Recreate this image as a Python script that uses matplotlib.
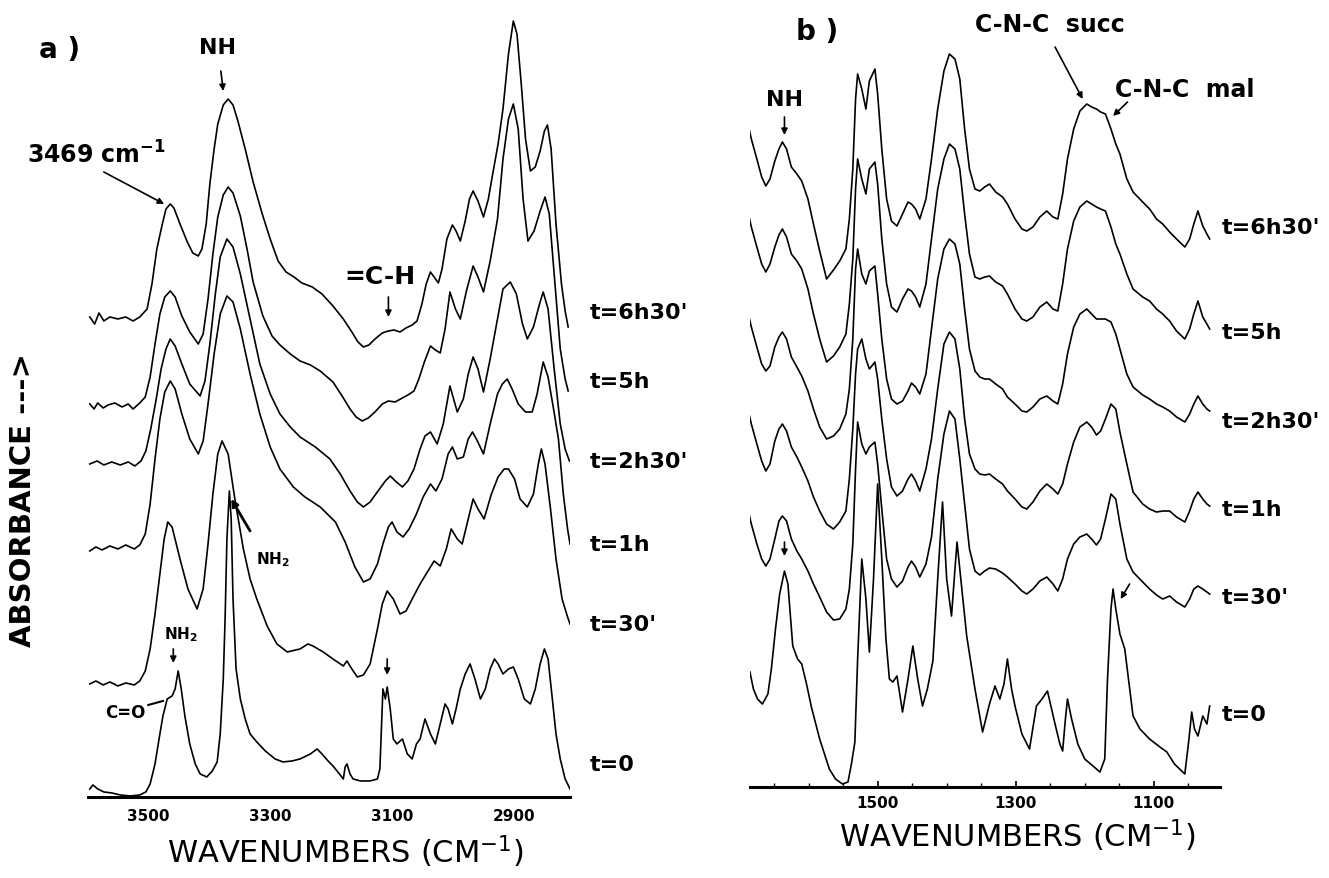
import matplotlib
matplotlib.use("Agg")
import matplotlib.pyplot as plt
from matplotlib.ticker import FixedLocator, MultipleLocator

# ---------------- panel a : NH / CH stretching region ----------------
wn_a_6h30 = [3596, 3588, 3581, 3573, 3563, 3550, 3537, 3525, 3514, 3502, 3494, 3486, 3477, 3471, 3464, 3458,
             3448, 3436, 3427, 3418, 3412, 3405, 3399, 3392, 3386, 3377, 3369, 3361, 3353, 3341, 3328, 3313,
             3300, 3287, 3274, 3261, 3248, 3231, 3215, 3197, 3180, 3166, 3156, 3147, 3138, 3128, 3116, 3106,
             3097, 3087, 3077, 3067, 3059, 3051, 3044, 3037, 3031, 3024, 3018, 3010, 3001, 2995, 2988, 2980,
             2973, 2967, 2959, 2950, 2942, 2934, 2926, 2918, 2909, 2901, 2895, 2888, 2881, 2873, 2865, 2857,
             2850, 2845, 2839, 2831, 2822, 2816, 2811]
ab_a_6h30 = [4.80, 4.73, 4.84, 4.76, 4.80, 4.78, 4.80, 4.76, 4.80, 4.88, 5.13, 5.48, 5.73, 5.88, 5.93, 5.89,
             5.73, 5.55, 5.44, 5.41, 5.48, 5.73, 6.13, 6.48, 6.73, 6.92, 6.98, 6.92, 6.76, 6.48, 6.15, 5.83,
             5.58, 5.36, 5.25, 5.20, 5.14, 5.10, 5.03, 4.91, 4.78, 4.65, 4.55, 4.50, 4.52, 4.58, 4.64, 4.66,
             4.67, 4.65, 4.69, 4.72, 4.76, 4.93, 5.13, 5.25, 5.20, 5.14, 5.28, 5.58, 5.72, 5.66, 5.56, 5.76,
             5.98, 6.06, 5.96, 5.80, 5.98, 6.26, 6.53, 6.88, 7.43, 7.76, 7.63, 7.13, 6.58, 6.26, 6.30, 6.46,
             6.66, 6.72, 6.48, 5.73, 5.13, 4.86, 4.70]

wn_a_5h = [3596, 3589, 3583, 3574, 3566, 3555, 3543, 3533, 3525, 3514, 3505, 3497, 3489, 3481, 3473, 3464,
           3456, 3445, 3432, 3418, 3410, 3402, 3394, 3386, 3377, 3369, 3361, 3349, 3338, 3328, 3312, 3297,
           3284, 3267, 3251, 3234, 3218, 3197, 3182, 3169, 3159, 3149, 3139, 3128, 3116, 3106, 3095, 3083,
           3074, 3064, 3056, 3047, 3037, 3029, 3021, 3013, 3005, 2996, 2988, 2978, 2967, 2959, 2950, 2939,
           2927, 2918, 2909, 2901, 2893, 2885, 2877, 2867, 2857, 2849, 2842, 2832, 2824, 2816, 2811]
ab_a_5h = [3.93, 3.88, 3.94, 3.89, 3.92, 3.94, 3.90, 3.93, 3.88, 3.94, 4.00, 4.20, 4.53, 4.83, 5.00, 5.06,
           5.00, 4.81, 4.65, 4.53, 4.63, 4.98, 5.43, 5.80, 6.02, 6.10, 6.04, 5.81, 5.48, 5.15, 4.81, 4.61,
           4.52, 4.43, 4.36, 4.32, 4.26, 4.15, 4.01, 3.88, 3.80, 3.76, 3.79, 3.85, 3.93, 3.96, 3.95, 3.99,
           4.02, 4.06, 4.18, 4.35, 4.51, 4.47, 4.44, 4.68, 5.05, 4.88, 4.78, 5.06, 5.31, 5.20, 5.05, 5.36,
           5.78, 6.38, 6.78, 6.93, 6.68, 5.98, 5.56, 5.66, 5.86, 6.00, 5.83, 5.08, 4.48, 4.18, 4.06]

wn_a_2h30 = [3596, 3584, 3573, 3560, 3546, 3533, 3522, 3512, 3504, 3496, 3487, 3479, 3471, 3464, 3456, 3445,
             3432, 3415, 3407, 3399, 3390, 3382, 3371, 3361, 3349, 3333, 3317, 3300, 3284, 3267, 3251, 3226,
             3202, 3185, 3169, 3157, 3147, 3136, 3123, 3111, 3103, 3093, 3083, 3074, 3064, 3054, 3046, 3037,
             3026, 3016, 3005, 2993, 2983, 2975, 2967, 2959, 2950, 2939, 2927, 2918, 2906, 2896, 2886, 2878,
             2868, 2858, 2852, 2844, 2834, 2824, 2816, 2809]
ab_a_2h30 = [3.33, 3.36, 3.32, 3.35, 3.32, 3.35, 3.31, 3.36, 3.46, 3.68, 3.98, 4.28, 4.48, 4.58, 4.51, 4.33,
             4.13, 4.01, 4.16, 4.53, 5.03, 5.40, 5.58, 5.50, 5.23, 4.78, 4.33, 4.03, 3.83, 3.70, 3.60, 3.50,
             3.38, 3.23, 3.06, 2.95, 2.90, 2.95, 3.06, 3.16, 3.21, 3.15, 3.10, 3.16, 3.28, 3.48, 3.61, 3.65,
             3.53, 3.73, 4.11, 3.85, 3.98, 4.23, 4.40, 4.28, 4.05, 4.38, 4.78, 5.08, 5.15, 5.03, 4.73, 4.58,
             4.70, 4.93, 5.05, 4.88, 4.28, 3.73, 3.48, 3.36]

wn_a_1h = [3596, 3586, 3576, 3563, 3550, 3537, 3523, 3514, 3505, 3497, 3489, 3481, 3473, 3464, 3456, 3445,
           3432, 3418, 3410, 3402, 3392, 3382, 3371, 3361, 3349, 3333, 3317, 3300, 3284, 3262, 3243, 3218,
           3193, 3177, 3161, 3147, 3136, 3124, 3115, 3106, 3100, 3092, 3082, 3072, 3060, 3049, 3037, 3028,
           3018, 3008, 3001, 2993, 2983, 2975, 2968, 2960, 2950, 2939, 2927, 2919, 2911, 2903, 2893, 2881,
           2870, 2862, 2852, 2844, 2835, 2827, 2819, 2812, 2808]
ab_a_1h = [2.46, 2.50, 2.47, 2.51, 2.48, 2.52, 2.48, 2.52, 2.63, 2.93, 3.38, 3.78, 4.05, 4.16, 4.08, 3.83,
           3.58, 3.43, 3.56, 3.93, 4.43, 4.83, 5.01, 4.95, 4.68, 4.23, 3.83, 3.50, 3.28, 3.10, 3.00, 2.90,
           2.75, 2.55, 2.30, 2.15, 2.18, 2.33, 2.53, 2.70, 2.75, 2.65, 2.60, 2.68, 2.83, 3.00, 3.13, 3.06,
           3.18, 3.43, 3.50, 3.38, 3.40, 3.58, 3.65, 3.56, 3.43, 3.73, 4.03, 4.13, 4.18, 4.08, 3.93, 3.85,
           3.85, 4.03, 4.35, 4.20, 3.88, 3.58, 3.03, 2.68, 2.53]

wn_a_30 = [3596, 3586, 3574, 3563, 3550, 3537, 3523, 3514, 3505, 3497, 3489, 3481, 3474, 3468, 3461, 3448,
           3435, 3420, 3410, 3402, 3394, 3386, 3379, 3369, 3358, 3344, 3333, 3322, 3305, 3289, 3272, 3251,
           3238, 3230, 3213, 3197, 3180, 3174, 3166, 3157, 3147, 3136, 3124, 3116, 3108, 3098, 3087, 3077,
           3067, 3054, 3041, 3031, 3021, 3011, 3003, 2993, 2985, 2975, 2967, 2959, 2949, 2937, 2926, 2916,
           2909, 2899, 2890, 2878, 2868, 2860, 2855, 2849, 2840, 2831, 2821, 2812, 2808]
ab_a_30 = [1.13, 1.16, 1.12, 1.15, 1.11, 1.14, 1.12, 1.16, 1.26, 1.48, 1.83, 2.23, 2.58, 2.75, 2.70, 2.38,
           2.08, 1.88, 2.08, 2.53, 3.03, 3.43, 3.56, 3.43, 2.98, 2.48, 2.18, 1.98, 1.71, 1.53, 1.45, 1.48,
           1.53, 1.51, 1.45, 1.38, 1.31, 1.36, 1.28, 1.20, 1.22, 1.33, 1.68, 1.93, 2.06, 1.98, 1.83, 1.86,
           1.98, 2.13, 2.26, 2.36, 2.31, 2.48, 2.68, 2.58, 2.53, 2.78, 2.98, 2.88, 2.78, 3.03, 3.20, 3.28,
           3.28, 3.18, 2.98, 2.90, 3.03, 3.33, 3.48, 3.33, 2.88, 2.38, 1.98, 1.80, 1.73]

wn_a_0 = [3596, 3591, 3583, 3573, 3560, 3546, 3530, 3514, 3504, 3497, 3489, 3481, 3476, 3469, 3461, 3456,
          3451, 3446, 3440, 3432, 3423, 3415, 3404, 3395, 3387, 3382, 3377, 3374, 3371, 3367, 3364, 3361,
          3356, 3349, 3341, 3333, 3322, 3308, 3292, 3279, 3264, 3251, 3234, 3223, 3215, 3205, 3197, 3189,
          3180, 3177, 3174, 3169, 3164, 3152, 3136, 3124, 3120, 3115, 3111, 3108, 3103, 3098, 3092, 3083,
          3075, 3067, 3060, 3054, 3046, 3037, 3029, 3021, 3013, 3008, 3001, 2995, 2988, 2980, 2972, 2964,
          2955, 2947, 2939, 2932, 2926, 2918, 2909, 2901, 2893, 2883, 2873, 2865, 2857, 2850, 2844, 2837,
          2831, 2824, 2816, 2808]
ab_a_0 = [0.08, 0.12, 0.08, 0.05, 0.04, 0.02, 0.01, 0.02, 0.05, 0.13, 0.33, 0.63, 0.81, 0.98, 1.01, 1.08,
          1.26, 1.08, 0.81, 0.53, 0.33, 0.23, 0.20, 0.26, 0.35, 0.63, 1.18, 1.78, 2.58, 3.06, 2.78, 1.98,
          1.28, 0.98, 0.78, 0.63, 0.55, 0.46, 0.38, 0.35, 0.36, 0.38, 0.43, 0.48, 0.43, 0.36, 0.31, 0.25,
          0.18, 0.30, 0.33, 0.23, 0.18, 0.16, 0.16, 0.18, 0.28, 1.08, 0.98, 1.10, 0.88, 0.58, 0.53, 0.58,
          0.43, 0.38, 0.53, 0.58, 0.78, 0.63, 0.53, 0.73, 0.93, 0.88, 0.73, 0.88, 1.08, 1.23, 1.33, 1.18,
          0.98, 1.08, 1.28, 1.38, 1.33, 1.23, 1.28, 1.30, 1.18, 0.98, 0.93, 1.08, 1.33, 1.48, 1.38, 0.98,
          0.63, 0.38, 0.18, 0.08]

# ---------------- panel b : fingerprint region ----------------
wn_b = [1688, 1683, 1675, 1668, 1662, 1656, 1649, 1643, 1638, 1632, 1625, 1617, 1610, 1601, 1593, 1584,
        1574, 1564, 1555, 1546, 1541, 1536, 1532, 1529, 1523, 1517, 1512, 1504, 1500, 1494, 1487, 1480,
        1472, 1464, 1456, 1451, 1445, 1439, 1430, 1422, 1413, 1404, 1396, 1388, 1381, 1374, 1367, 1359,
        1352, 1345, 1338, 1329, 1319, 1312, 1301, 1291, 1284, 1275, 1265, 1255, 1246, 1239, 1232, 1225,
        1216, 1207, 1197, 1190, 1183, 1177, 1170, 1162, 1155, 1149, 1139, 1130, 1116, 1106, 1096, 1087,
        1077, 1067, 1055, 1048, 1042, 1036, 1029, 1023, 1019]
ab_b_6h30 = [6.63, 6.48, 6.28, 6.10, 6.01, 6.08, 6.26, 6.38, 6.45, 6.38, 6.20, 6.13, 6.06, 5.88, 5.63, 5.36,
             5.08, 5.17, 5.26, 5.38, 5.68, 6.18, 6.88, 7.13, 6.98, 6.78, 7.06, 7.18, 6.93, 6.38, 5.88, 5.66,
             5.61, 5.73, 5.85, 5.83, 5.78, 5.68, 5.88, 6.28, 6.78, 7.16, 7.33, 7.28, 7.08, 6.58, 6.18, 5.98,
             5.96, 6.00, 6.03, 5.95, 5.90, 5.83, 5.68, 5.58, 5.56, 5.60, 5.70, 5.76, 5.70, 5.68, 5.93, 6.28,
             6.58, 6.76, 6.83, 6.80, 6.78, 6.75, 6.73, 6.58, 6.43, 6.33, 6.08, 5.95, 5.85, 5.78, 5.68, 5.63,
             5.55, 5.48, 5.40, 5.48, 5.63, 5.76, 5.61, 5.53, 5.48]
ab_b_5h = [5.75, 5.60, 5.40, 5.23, 5.15, 5.23, 5.40, 5.52, 5.58, 5.50, 5.33, 5.26, 5.18, 4.98, 4.73, 4.48,
           4.25, 4.31, 4.40, 4.53, 4.83, 5.28, 5.98, 6.28, 6.08, 5.93, 6.18, 6.25, 6.03, 5.48, 5.03, 4.80,
           4.75, 4.88, 4.98, 4.96, 4.90, 4.80, 5.03, 5.48, 5.98, 6.28, 6.43, 6.38, 6.18, 5.73, 5.33, 5.10,
           5.08, 5.10, 5.11, 5.05, 5.01, 4.93, 4.78, 4.68, 4.66, 4.70, 4.80, 4.85, 4.78, 4.76, 5.03, 5.38,
           5.66, 5.80, 5.86, 5.83, 5.80, 5.78, 5.76, 5.60, 5.43, 5.33, 5.13, 4.98, 4.90, 4.86, 4.78, 4.73,
           4.66, 4.56, 4.48, 4.58, 4.73, 4.86, 4.70, 4.63, 4.58]
ab_b_2h30 = [4.75, 4.60, 4.40, 4.23, 4.16, 4.21, 4.40, 4.50, 4.55, 4.48, 4.30, 4.20, 4.11, 3.96, 3.78, 3.60,
             3.48, 3.51, 3.58, 3.73, 3.98, 4.48, 5.18, 5.38, 5.13, 5.03, 5.16, 5.21, 4.93, 4.48, 4.08, 3.88,
             3.83, 3.86, 3.96, 4.04, 4.00, 3.93, 4.13, 4.58, 5.08, 5.38, 5.48, 5.43, 5.23, 4.78, 4.38, 4.16,
             4.10, 4.08, 4.08, 4.03, 3.98, 3.90, 3.83, 3.76, 3.75, 3.80, 3.88, 3.91, 3.86, 3.83, 4.03, 4.33,
             4.60, 4.73, 4.78, 4.73, 4.68, 4.68, 4.68, 4.65, 4.53, 4.38, 4.13, 4.00, 3.92, 3.88, 3.83, 3.80,
             3.76, 3.70, 3.65, 3.73, 3.83, 3.91, 3.83, 3.78, 3.76]
ab_b_1h = [3.78, 3.63, 3.43, 3.26, 3.16, 3.23, 3.46, 3.58, 3.63, 3.56, 3.40, 3.30, 3.20, 3.06, 2.90, 2.76,
           2.63, 2.58, 2.65, 2.76, 3.08, 3.58, 4.13, 4.38, 4.48, 4.28, 4.18, 4.25, 4.08, 3.68, 3.28, 3.00,
           2.91, 2.96, 3.08, 3.13, 3.06, 2.96, 3.18, 3.48, 3.98, 4.43, 4.55, 4.48, 4.18, 3.68, 3.33, 3.18,
           3.13, 3.12, 3.13, 3.08, 3.03, 2.96, 2.88, 2.80, 2.78, 2.85, 2.96, 3.03, 2.98, 2.93, 3.03, 3.23,
           3.45, 3.60, 3.65, 3.60, 3.52, 3.56, 3.68, 3.83, 3.78, 3.55, 3.23, 2.95, 2.83, 2.78, 2.75, 2.76,
           2.76, 2.70, 2.65, 2.76, 2.88, 2.95, 2.88, 2.83, 2.81]
ab_b_30 = [2.78, 2.63, 2.43, 2.28, 2.21, 2.28, 2.48, 2.66, 2.71, 2.66, 2.48, 2.36, 2.28, 2.16, 2.03, 1.90,
           1.75, 1.67, 1.68, 1.78, 1.98, 2.43, 3.18, 3.65, 3.43, 3.33, 3.40, 3.45, 3.23, 2.78, 2.28, 2.08,
           2.00, 2.06, 2.20, 2.26, 2.20, 2.10, 2.23, 2.50, 3.08, 3.53, 3.76, 3.68, 3.28, 2.83, 2.38, 2.16,
           2.12, 2.16, 2.19, 2.18, 2.14, 2.10, 2.03, 1.96, 1.93, 1.98, 2.06, 2.10, 2.03, 1.96, 2.08, 2.28,
           2.43, 2.50, 2.53, 2.48, 2.42, 2.48, 2.68, 2.93, 2.88, 2.63, 2.28, 2.15, 2.05, 1.98, 1.92, 1.88,
           1.91, 1.85, 1.80, 1.88, 1.98, 2.01, 1.98, 1.95, 1.93]

wn_b_0 = [1685, 1680, 1674, 1667, 1659, 1654, 1648, 1642, 1635, 1630, 1623, 1616, 1610, 1603, 1596, 1584,
          1570, 1561, 1551, 1543, 1538, 1533, 1529, 1523, 1517, 1512, 1506, 1500, 1494, 1488, 1483, 1478,
          1472, 1464, 1456, 1449, 1442, 1435, 1428, 1420, 1413, 1406, 1400, 1393, 1388, 1385, 1381, 1371,
          1359, 1348, 1338, 1330, 1323, 1317, 1312, 1306, 1301, 1291, 1280, 1270, 1262, 1254, 1243, 1236,
          1232, 1228, 1225, 1219, 1210, 1200, 1188, 1178, 1171, 1167, 1162, 1159, 1155, 1149, 1142, 1130,
          1120, 1106, 1091, 1081, 1070, 1055, 1049, 1045, 1041, 1036, 1029, 1023, 1019]
ab_b_0 = [1.15, 0.98, 0.88, 0.83, 0.93, 1.18, 1.58, 1.93, 2.16, 2.03, 1.41, 1.28, 1.23, 1.03, 0.80, 0.48,
          0.18, 0.08, 0.03, 0.05, 0.23, 0.45, 1.28, 2.28, 1.88, 1.35, 2.08, 3.03, 2.28, 1.48, 1.08, 1.05,
          1.11, 0.75, 1.08, 1.41, 1.08, 0.81, 0.98, 1.26, 2.08, 2.85, 2.08, 1.71, 2.18, 2.45, 2.18, 1.51,
          0.98, 0.55, 0.83, 1.01, 0.88, 1.03, 1.28, 0.98, 0.81, 0.53, 0.38, 0.81, 0.88, 0.96, 0.63, 0.43,
          0.36, 0.68, 0.88, 0.68, 0.43, 0.28, 0.21, 0.15, 0.28, 1.08, 1.78, 1.98, 1.78, 1.53, 1.38, 0.71,
          0.58, 0.48, 0.40, 0.35, 0.23, 0.13, 0.48, 0.75, 0.58, 0.51, 0.71, 0.63, 0.81]

time_labels = ["t=6h30'", "t=5h", "t=2h30'", "t=1h", "t=30'", "t=0"]
label_pos_a = [4.85, 4.16, 3.36, 2.53, 1.73, 0.33]
label_pos_b = [5.60, 4.55, 3.66, 2.78, 1.90, 0.73]

ticks_a = [3500, 3300, 3100, 2900]
ticks_b = [1500, 1300, 1100]

LW = 1.2
BOLD = dict(fontweight="bold", color="black")


def arrow(ax, tail, tip, lw=1.2, ms=9):
    ax.annotate("", xy=tip, xytext=tail,
                arrowprops=dict(arrowstyle="-|>", lw=lw, color="black",
                                mutation_scale=ms, shrinkA=0, shrinkB=0))


def style_axis(ax, xlim, ylim, ticks):
    ax.set_xlim(*xlim)
    ax.set_ylim(*ylim)
    for side in ["top", "left", "right"]:
        ax.spines[side].set_visible(False)
    ax.spines["bottom"].set_linewidth(2.2)
    ax.set_yticks([])
    ax.xaxis.set_major_locator(FixedLocator(ticks))
    ax.set_xticklabels([str(t) for t in ticks], fontsize=11, fontweight="bold")
    ax.patch.set_alpha(0)


fig = plt.figure(figsize=(13.29, 8.79), dpi=100)

# ---- panel a ----
ax = fig.add_axes([0.0662, 0.0922, 0.3627, 0.9078])
style_axis(ax, (3599, 2808), (0, 7.98), ticks_a)
ax.tick_params(axis="x", length=0, pad=8)

spectra_a = [(wn_a_6h30, ab_a_6h30), (wn_a_5h, ab_a_5h), (wn_a_2h30, ab_a_2h30),
             (wn_a_1h, ab_a_1h), (wn_a_30, ab_a_30), (wn_a_0, ab_a_0)]
for wn, ab in spectra_a:
    ax.plot(wn, ab, color="black", lw=LW, solid_joinstyle="round")

for lab, y in zip(time_labels, label_pos_a):
    ax.text(2775, y, lab, fontsize=16, ha="left", va="center", **BOLD)

ax.text(3645, 7.48, "a )", fontsize=20, ha="center", va="center", **BOLD)
ax.text(3386, 7.50, "NH", fontsize=16, ha="center", va="center", **BOLD)
arrow(ax, (3381, 7.26), (3377, 7.06))
ax.text(3699, 6.43, r"3469 cm$^{\mathbf{-1}}$", fontsize=17, ha="left", va="center", **BOLD)
arrow(ax, (3573, 6.25), (3474, 5.93))
ax.text(3120, 5.21, "=C-H", fontsize=18, ha="center", va="center", **BOLD)
arrow(ax, (3106, 5.00), (3106, 4.80))
ax.text(3295, 2.38, r"NH$_\mathbf{2}$", fontsize=11, ha="center", va="center", **BOLD)
arrow(ax, (3333, 2.66), (3364, 2.98), lw=2, ms=10)
ax.text(3446, 1.63, r"NH$_\mathbf{2}$", fontsize=11, ha="center", va="center", **BOLD)
arrow(ax, (3459, 1.48), (3459, 1.34))
ax.text(3538, 0.85, "C=O", fontsize=12, ha="center", va="center", **BOLD)
ax.plot([3500, 3476], [0.92, 0.96], color="black", lw=1.5)
arrow(ax, (3108, 1.38), (3108, 1.22))

ax.text(-0.135, 0.373, "ABSORBANCE --->", rotation=90, fontsize=21, ha="center", va="center",
        transform=ax.transAxes, **BOLD)
ax.text(0.533, -0.068, r"WAVENUMBERS (CM$^{-1}$)", fontsize=22, ha="center", va="center",
        transform=ax.transAxes)

# ---- panel b ----
bx = fig.add_axes([0.5643, 0.1035, 0.3537, 0.8965])
style_axis(bx, (1685, 1004), (0, 7.88), ticks_b)
bx.xaxis.set_minor_locator(MultipleLocator(50))
bx.tick_params(axis="x", which="major", length=4, width=1.2, direction="in", pad=6)
bx.tick_params(axis="x", which="minor", length=3, width=1.0, direction="in")

for ab in [ab_b_6h30, ab_b_5h, ab_b_2h30, ab_b_1h, ab_b_30]:
    bx.plot(wn_b, ab, color="black", lw=LW, solid_joinstyle="round")
bx.plot(wn_b_0, ab_b_0, color="black", lw=LW, solid_joinstyle="round")

for lab, y in zip(time_labels, label_pos_b):
    bx.text(1001, y, lab, fontsize=16, ha="left", va="center", **BOLD)

bx.text(1587, 7.56, "b )", fontsize=20, ha="center", va="center", **BOLD)
bx.text(1635, 6.88, "NH", fontsize=16, ha="center", va="center", **BOLD)
arrow(bx, (1635, 6.70), (1635, 6.52))
bx.text(1251, 7.63, "C-N-C  succ", fontsize=17, ha="center", va="center", **BOLD)
arrow(bx, (1243, 7.40), (1203, 6.88))
bx.text(1055, 6.98, "C-N-C  mal", fontsize=17, ha="center", va="center", **BOLD)
arrow(bx, (1138, 6.85), (1159, 6.71))
arrow(bx, (1635, 2.45), (1635, 2.31))
arrow(bx, (1135, 2.03), (1148, 1.88))

bx.text(0.568, -0.06, r"WAVENUMBERS (CM$^{-1}$)", fontsize=22, ha="center", va="center",
        transform=bx.transAxes)

fig.savefig("out.png", dpi=100)
